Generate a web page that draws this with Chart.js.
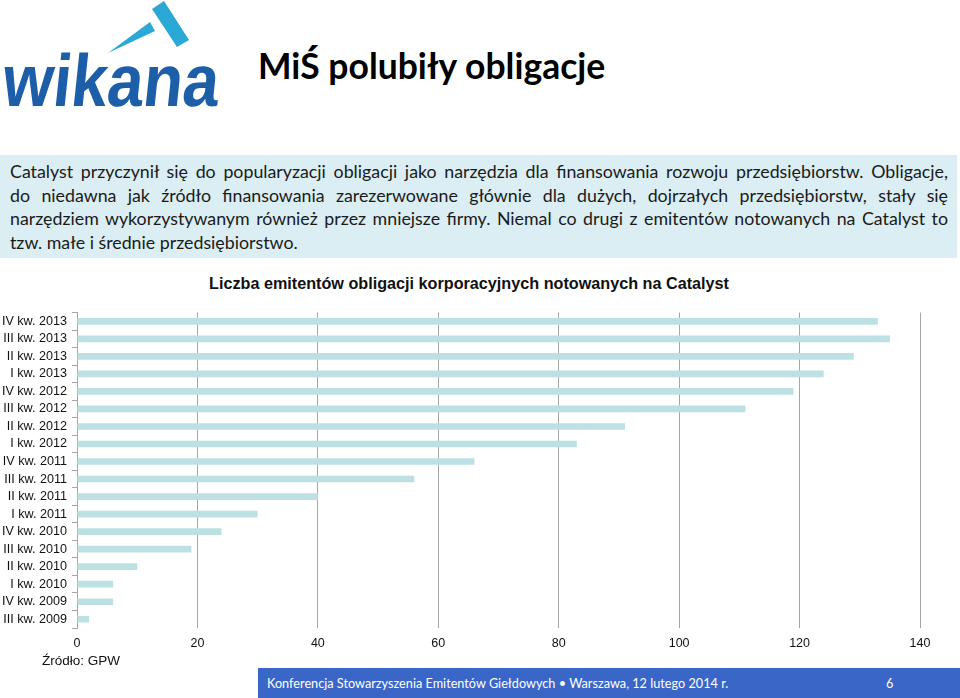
<!DOCTYPE html>
<html><head><meta charset="utf-8">
<script src="https://cdn.jsdelivr.net/npm/chart.js@4"></script>
<style>
html,body{margin:0;padding:0;background:#fff;width:960px;height:698px;overflow:hidden;position:relative}
#logo{position:absolute;left:0;top:0}
#title{position:absolute;left:258px;top:44px;font:bold 35.5px Lato,"Open Sans",sans-serif;color:#000;white-space:nowrap}
#box{position:absolute;left:0;top:155px;width:957px;height:103px;background:#dbeef3}
.ln{position:absolute;left:10px;width:938px;font:17.8px Lato,sans-serif;color:#1a1a1a;white-space:nowrap;text-align:justify;text-align-last:justify}
.ln.last{text-align-last:left}
#ctitle{position:absolute;left:0;width:938px;top:274px;text-align:center;font:bold 16.2px "Liberation Sans",Arial,sans-serif;color:#111}
#cwrap{position:absolute;left:0;top:300px;width:940px;height:358px}
#src{position:absolute;left:42px;top:653px;font:13.5px "Liberation Sans",Arial,sans-serif;color:#111}
#foot{position:absolute;left:258px;top:668px;width:702px;height:30px;background:#3a66c8}
#foot span{position:absolute;top:7px;font:12.7px Lato,sans-serif;color:#fff;white-space:nowrap}
</style></head><body>
<svg id="logo" width="250" height="120" viewBox="0 0 250 120">
  <polygon points="152,9 164,1 189,40 177,47" fill="#2aa8d6"/>
  <polygon points="108,53 150,22 155,31" fill="#2aa8d6"/>
  <text x="2" y="106" font-family="Liberation Sans, Arial, sans-serif" font-weight="bold" font-size="74" fill="#1c5fa8" textLength="216" lengthAdjust="spacingAndGlyphs" transform="skewX(-6) translate(10,0)">wikana</text>
</svg>
<div id="title">MiŚ polubiły obligacje</div>
<div id="box"></div>
<div class="ln" style="top:160px">Catalyst przyczynił się do popularyzacji obligacji jako narzędzia dla finansowania rozwoju przedsiębiorstw. Obligacje,</div>
<div class="ln" style="top:183.5px">do niedawna jak źródło finansowania zarezerwowane głównie dla dużych, dojrzałych przedsiębiorstw, stały się</div>
<div class="ln" style="top:207px">narzędziem wykorzystywanym również przez mniejsze firmy. Niemal co drugi z emitentów notowanych na Catalyst to</div>
<div class="ln last" style="top:230.5px">tzw. małe i średnie przedsiębiorstwo.</div>
<div id="ctitle">Liczba emitentów obligacji korporacyjnych notowanych na Catalyst</div>
<div id="cwrap"><canvas id="c" width="940" height="358"></canvas></div>
<div id="src">Źródło: GPW</div>
<div id="foot"><span style="left:9px">Konferencja Stowarzyszenia Emitentów Giełdowych • Warszawa, 12 lutego 2014 r.</span><span style="left:628px">6</span></div>
<script>
const categories = ["IV kw. 2013","III kw. 2013","II kw. 2013","I kw. 2013","IV kw. 2012","III kw. 2012","II kw. 2012","I kw. 2012","IV kw. 2011","III kw. 2011","II kw. 2011","I kw. 2011","IV kw. 2010","III kw. 2010","II kw. 2010","I kw. 2010","IV kw. 2009","III kw. 2009"];
const emitters = [133,135,129,124,119,111,91,83,66,56,40,30,24,19,10,6,6,2];
const xTicks = [0,20,40,60,80,100,120,140];

new Chart(document.getElementById('c'), {
  type: 'bar',
  data: { labels: categories, datasets: [{ data: emitters, backgroundColor: '#bde0e3', borderWidth: 0, barPercentage: 0.38, categoryPercentage: 1 }] },
  options: {
    indexAxis: 'y', responsive: false, animation: false,
    layout: { padding: { top: 8, right: 20, left: 0, bottom: 0 } },
    plugins: { legend: { display: false }, tooltip: { enabled: false }, title: { display: false } },
    scales: {
      x: {
        min: 0, max: 140,
        afterBuildTicks: s => { s.ticks = xTicks.map(v => ({ value: v })); },
        afterFit: s => { s.height = 30; },
        grid: { color: '#a6a6a6', lineWidth: 1, drawTicks: false },
        border: { display: false },
        ticks: { padding: 8, color: '#111', font: { family: 'Liberation Sans', size: 12.5 } }
      },
      y: {
        afterFit: s => { s.width = 77; },
        grid: { display: true, drawOnChartArea: false, drawTicks: true, tickLength: 5, color: '#a6a6a6', offset: true },
        border: { display: true, color: '#a6a6a6' },
        ticks: { padding: 5, color: '#111', font: { family: 'Liberation Sans', size: 12.6 }, autoSkip: false }
      }
    }
  }
});
</script>
</body></html>
